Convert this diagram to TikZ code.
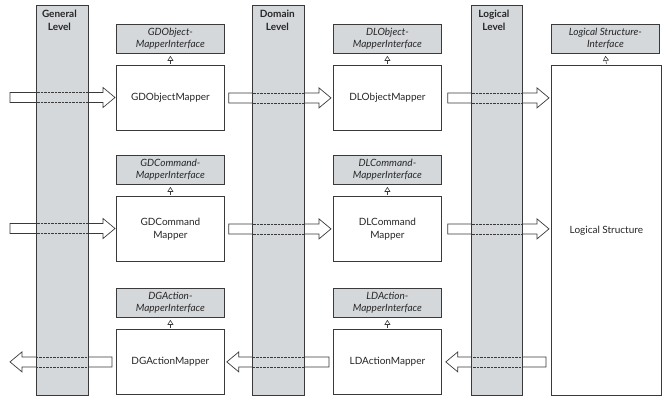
\documentclass[tikz,border=0pt]{standalone}
\usepackage{fontspec}
\setmainfont{Lato}
\usetikzlibrary{calc,arrows.meta}
\definecolor{barfill}{HTML}{D5D8DB}
\definecolor{linec}{HTML}{3A3A3A}
\definecolor{txt}{HTML}{262626}
\begin{document}
\begin{tikzpicture}[x=1pt,y=-1pt,
  box/.style={draw=linec, line width=0.8pt, align=center, text=txt, inner sep=2pt},
  mapper/.style={box, fill=white, minimum width=108pt, minimum height=65pt, anchor=north west, font=\fontsize{10}{13}\selectfont},
  iface/.style={box, fill=barfill, minimum width=108pt, minimum height=29pt, anchor=north west, font=\fontsize{10}{12}\selectfont\itshape},
  levelbar/.style={draw=linec, line width=0.8pt, fill=barfill, minimum width=52pt, minimum height=390pt, anchor=north west, inner sep=0pt},
  levellabel/.style={anchor=north, align=center, text=txt, inner sep=0pt, font=\fontsize{10}{12.5}\selectfont\bfseries},
  ifarrow/.style={draw=linec, line width=0.6pt, -{Triangle[open, length=5pt, width=6pt]}},
  blockarr/.style={draw=linec, line width=0.7pt, fill=white,
    to path={let \p1=(\tikztostart), \p2=(\tikztotarget), \n1={sign(\x2-\x1)*12} in
      (\x1,{\y1+5pt}) -- ({\x2-\n1},{\y1+5pt}) -- ({\x2-\n1},{\y1+10pt}) -- (\x2,\y1)
      -- ({\x2-\n1},{\y1-10pt}) -- ({\x2-\n1},{\y1-5pt}) -- (\x1,{\y1-5pt}) -- cycle}},
  dotshaft/.style={draw=linec, line width=0.6pt, dash pattern=on 0.7pt off 0.7pt,
    to path={let \p1=(\tikztostart), \p2=(\tikztotarget), \n1={sign(\x2-\x1)*12} in
      (\x1,{\y1+5pt}) -- ({\x2-\n1},{\y1+5pt})
      (\x1,{\y1-5pt}) -- ({\x2-\n1},{\y1-5pt})}}
]
\useasboundingbox (0,0) rectangle (663,396);

% interfaces
\node[iface] (gdoi) at (116,24) {GDObject-\\MapperInterface};
\node[iface] (dloi) at (333,24) {DLObject-\\MapperInterface};
\node[iface] (lsi)  at (551,24) {Logical Structure-\\Interface};
\node[iface] (gdci) at (116,155) {GDCommand-\\MapperInterface};
\node[iface] (dlci) at (333,155) {DLCommand-\\MapperInterface};
\node[iface] (dgai) at (116,288) {DGAction-\\MapperInterface};
\node[iface] (ldai) at (333,288) {LDAction-\\MapperInterface};

% mappers
\node[mapper] (gdo) at (116,65) {GDObjectMapper};
\node[mapper] (dlo) at (333,65) {DLObjectMapper};
\node[mapper] (gdc) at (116,196) {GDCommand\\Mapper};
\node[mapper] (dlc) at (333,196) {DLCommand\\Mapper};
\node[mapper] (dga) at (116,329) {DGActionMapper};
\node[mapper] (lda) at (333,329) {LDActionMapper};
\node[mapper, minimum width=110pt, minimum height=330pt] (ls) at (551,65) {Logical Structure};

% interface realisation arrows
\foreach \m/\i in {gdo/gdoi, dlo/dloi, ls/lsi, gdc/gdci, dlc/dlci, dga/dgai, lda/ldai}
  \draw[ifarrow] ($(\m.north)+(0,-1)$) -- ($(\i.south)+(0,2)$);

% free ends
\coordinate (in1) at (10,97.5);
\coordinate (in2) at (10,228.5);
\coordinate (out3) at (10,361.5);

% block arrows
\draw[blockarr] (in1) to ([xshift=-1pt]gdo.west);
\draw[blockarr] ([xshift=4pt]gdo.east) to ([xshift=-2pt]dlo.west);
\draw[blockarr] ([xshift=6pt]dlo.east) to ($(ls.west |- dlo.east)+(-2,0)$);
\draw[blockarr] (in2) to ([xshift=-1pt]gdc.west);
\draw[blockarr] ([xshift=4pt]gdc.east) to ([xshift=-2pt]dlc.west);
\draw[blockarr] ([xshift=6pt]dlc.east) to ($(ls.west |- dlc.east)+(-2,0)$);
\draw[blockarr] ($(ls.west |- lda.east)+(-5,0)$) to ([xshift=4pt]lda.east);
\draw[blockarr] ([xshift=-4pt]lda.west) to ([xshift=2pt]dga.east);
\draw[blockarr] ([xshift=-4pt]dga.west) to (out3);

% level bars
\node[levelbar] (genbar) at (36,5) {};
\node[levelbar] (dombar) at (252,5) {};
\node[levelbar, minimum width=51pt] (logbar) at (471,5) {};
\node[levellabel] (genlab) at ([xshift=-3pt,yshift=-5pt]genbar.north) {General\\Level};
\node[levellabel] (domlab) at ([xshift=-1pt,yshift=-5pt]dombar.north) {Domain\\Level};
\node[levellabel] (loglab) at ([xshift=-3pt,yshift=-5pt]logbar.north) {Logical\\Level};

% dotted shaft edges, visible only over the bars
\begin{scope}
\clip (genbar.north west) rectangle (genbar.south east)
      (dombar.north west) rectangle (dombar.south east)
      (logbar.north west) rectangle (logbar.south east);
\draw[dotshaft] (in1) to ([xshift=-1pt]gdo.west);
\draw[dotshaft] ([xshift=4pt]gdo.east) to ([xshift=-2pt]dlo.west);
\draw[dotshaft] ([xshift=6pt]dlo.east) to ($(ls.west |- dlo.east)+(-2,0)$);
\draw[dotshaft] (in2) to ([xshift=-1pt]gdc.west);
\draw[dotshaft] ([xshift=4pt]gdc.east) to ([xshift=-2pt]dlc.west);
\draw[dotshaft] ([xshift=6pt]dlc.east) to ($(ls.west |- dlc.east)+(-2,0)$);
\draw[dotshaft] ($(ls.west |- lda.east)+(-5,0)$) to ([xshift=4pt]lda.east);
\draw[dotshaft] ([xshift=-4pt]lda.west) to ([xshift=2pt]dga.east);
\draw[dotshaft] ([xshift=-4pt]dga.west) to (out3);
\end{scope}
\end{tikzpicture}
\end{document}
